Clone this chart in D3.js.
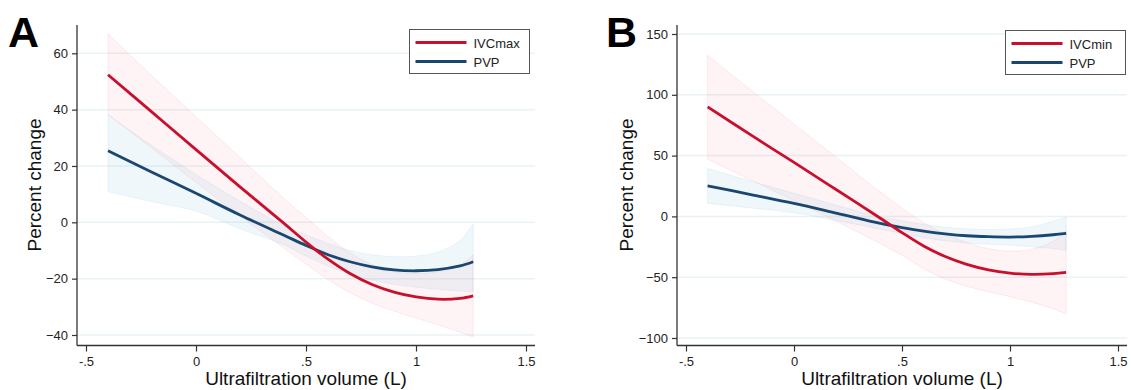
<!DOCTYPE html>
<html>
<head>
<meta charset="utf-8">
<script src="https://cdn.jsdelivr.net/npm/d3@7"></script>
<style>
  body { margin: 0; background: #fff; }
  svg { display: block; font-family: "Liberation Sans", Arial, sans-serif; }
</style>
</head>
<body>
<div class="chart"></div>
<script>
// fitted curves with 95% CI

var xVals = [-0.4, -0.2, 0, 0.2, 0.4, 0.5, 0.6, 0.7, 0.8, 0.9, 1.0, 1.1, 1.2, 1.26];

/* panel A */
var ivcmaxFit = [52.4, 39.1, 25.8, 12.6, -0.4, -7.0, -13.1, -18.2, -22.1, -24.8, -26.5, -27.3, -27.0, -26.1];
var ivcmaxHi  = [66.9, 52.0, 37.5, 23.0, 8.5, 1.8, -5.0, -10.8, -15.0, -17.5, -18.2, -17.5, -15.0, -11.6];
var ivcmaxLo  = [38.3, 26.3, 14.2, 2.3, -9.2, -14.8, -20.3, -25.0, -28.7, -31.5, -34.0, -36.4, -39.0, -40.7];
var pvpFitA   = [25.4, 17.8, 10.3, 2.6, -4.6, -8.2, -11.5, -14.0, -15.8, -16.9, -17.2, -16.8, -15.5, -14.0];
var pvpHiA    = [38.2, 27.2, 17.0, 7.5, -1.2, -4.5, -7.5, -10.0, -11.5, -12.2, -12.0, -10.5, -6.5, -0.4];
var pvpLoA    = [10.9, 7.3, 4.0, -2.3, -8.0, -12.0, -15.5, -18.5, -20.5, -22.0, -23.0, -23.8, -24.4, -24.7];

/* panel B */
var ivcminFit = [90.1, 67.0, 44.4, 21.5, -1.5, -13.3, -24.3, -33.0, -39.5, -44.0, -46.6, -47.7, -47.1, -46.0];
var ivcminHi  = [132.6, 104.0, 76.0, 48.0, 20.0, 7.0, -5.0, -14.5, -21.5, -26.5, -28.5, -27.0, -20.5, -11.5];
var ivcminLo  = [47.1, 30.0, 13.0, -4.5, -22.5, -32.0, -43.0, -51.5, -57.5, -62.0, -66.0, -70.5, -76.0, -80.5];
var pvpFitB   = [25.2, 18.0, 10.7, 2.5, -5.8, -9.2, -12.1, -14.3, -15.9, -16.7, -17.0, -16.4, -15.1, -14.0];
var pvpHiB    = [39.5, 29.0, 19.0, 9.0, -0.5, -3.5, -6.5, -8.8, -10.2, -10.8, -10.5, -8.5, -4.0, -0.3];
var pvpLoB    = [10.7, 7.0, 3.0, -3.5, -10.5, -14.0, -17.5, -20.0, -21.8, -23.0, -23.8, -25.0, -26.5, -28.0];

var xTicks  = [-0.5, 0, 0.5, 1, 1.5];
var yTicksA = [-40, -20, 0, 20, 40, 60];
var yTicksB = [-100, -50, 0, 50, 100, 150];

var red  = "#c8102e",
    blue = "#1a476f";

var width = 1131,
    height = 390;

var svg = d3.select(".chart").append("svg")
    .attr("width", width)
    .attr("height", height);

function fmtX(d) {
    return String(d).replace("0.", ".");
}

function drawPanel(p) {
    var x = d3.scaleLinear().domain([-0.5, 1.5]).range([p.x0, p.x1]);
    var y = d3.scaleLinear().domain(p.yDomain).range(p.yRange);

    var g = svg.append("g");

    // gridlines
    g.selectAll(".grid")
        .data(p.yTicks)
        .enter().append("line")
        .attr("x1", p.axisL).attr("x2", p.axisR)
        .attr("y1", function(d) { return y(d); })
        .attr("y2", function(d) { return y(d); })
        .attr("stroke", "#eaf3f4")
        .attr("stroke-width", 1.5);

    function rows(fit, lo, hi) {
        return xVals.map(function(v, i) {
            return {x: v, fit: fit[i], lo: lo[i], hi: hi[i]};
        });
    }

    var band = d3.area()
        .x(function(d) { return x(d.x); })
        .y0(function(d) { return y(d.lo); })
        .y1(function(d) { return y(d.hi); })
        .curve(d3.curveCatmullRom);

    var line = d3.line()
        .x(function(d) { return x(d.x); })
        .y(function(d) { return y(d.fit); })
        .curve(d3.curveCatmullRom);

    var s1 = rows(p.s1[0], p.s1[1], p.s1[2]),
        s2 = rows(p.s2[0], p.s2[1], p.s2[2]);

    // CI bands
    g.append("path").datum(s1).attr("d", band)
        .attr("fill", "rgba(230,40,80,0.055)")
        .attr("stroke", "rgba(230,40,80,0.10)")
        .attr("stroke-width", 0.8);
    g.append("path").datum(s2).attr("d", band)
        .attr("fill", "rgba(110,180,220,0.10)")
        .attr("stroke", "rgba(110,180,220,0.16)")
        .attr("stroke-width", 0.8);

    // fitted lines
    g.append("path").datum(s2).attr("d", line)
        .attr("fill", "none").attr("stroke", blue).attr("stroke-width", 2.8);
    g.append("path").datum(s1).attr("d", line)
        .attr("fill", "none").attr("stroke", red).attr("stroke-width", 2.8);

    // axes
    var yAxis = g.append("g")
        .attr("transform", "translate(" + p.axisL + ",0)")
        .call(d3.axisLeft(y).tickValues(p.yTicks).tickSize(5).tickPadding(4).tickSizeOuter(0));
    var xAxis = g.append("g")
        .attr("transform", "translate(0," + p.axisB + ")")
        .call(d3.axisBottom(x).tickValues(xTicks).tickFormat(fmtX).tickSize(6).tickPadding(5).tickSizeOuter(0));

    [yAxis, xAxis].forEach(function(a) {
        a.select(".domain").remove();
        a.selectAll("line").attr("stroke", "#333").attr("stroke-width", 1.2);
        a.selectAll("text").attr("fill", "#222").attr("font-size", 13)
            .attr("font-family", "Liberation Sans, Arial, sans-serif");
    });

    g.append("line")
        .attr("x1", p.axisL).attr("x2", p.axisL)
        .attr("y1", p.axisT).attr("y2", p.axisB)
        .attr("stroke", "#333").attr("stroke-width", 1.3);
    g.append("line")
        .attr("x1", p.axisL).attr("x2", p.axisR)
        .attr("y1", p.axisB).attr("y2", p.axisB)
        .attr("stroke", "#333").attr("stroke-width", 1.3);

    // axis titles
    g.append("text")
        .attr("x", (p.x0 + p.x1) / 2)
        .attr("y", 385)
        .attr("text-anchor", "middle")
        .attr("font-size", 19)
        .attr("fill", "#111")
        .text("Ultrafiltration volume (L)");
    g.append("text")
        .attr("transform", "translate(" + p.titleX + ",185) rotate(-90)")
        .attr("text-anchor", "middle")
        .attr("font-size", 19)
        .attr("fill", "#111")
        .text("Percent change");

    // panel letter
    g.append("text")
        .attr("x", p.letterX).attr("y", 47)
        .attr("font-size", 43)
        .attr("font-weight", "bold")
        .attr("fill", "#000")
        .text(p.letter);

    // legend
    var lg = g.append("g").attr("transform", "translate(" + p.legX + "," + p.legY + ")");
    lg.append("rect")
        .attr("width", p.legW).attr("height", 44)
        .attr("fill", "#fff").attr("stroke", "#555").attr("stroke-width", 1);
    [[red, p.names[0]], [blue, p.names[1]]].forEach(function(it, i) {
        lg.append("line")
            .attr("x1", 6).attr("x2", 57)
            .attr("y1", 13 + i * 19).attr("y2", 13 + i * 19)
            .attr("stroke", it[0]).attr("stroke-width", 2.8);
        lg.append("text")
            .attr("x", 64).attr("y", 18 + i * 19)
            .attr("font-size", 13)
            .attr("fill", "#222")
            .text(it[1]);
    });
}

drawPanel({
    letter: "A", letterX: 8,
    x0: 86, x1: 526, axisL: 77, axisR: 535, axisT: 25, axisB: 345.5,
    yDomain: [-40, 60], yRange: [335, 53.3], yTicks: yTicksA,
    titleX: 41,
    legX: 409.5, legY: 29.5, legW: 120,
    names: ["IVCmax", "PVP"],
    s1: [ivcmaxFit, ivcmaxLo, ivcmaxHi],
    s2: [pvpFitA, pvpLoA, pvpHiA]
});

drawPanel({
    letter: "B", letterX: 606,
    x0: 686, x1: 1118, axisL: 677, axisR: 1127, axisT: 25, axisB: 345.5,
    yDomain: [-100, 150], yRange: [338, 34], yTicks: yTicksB,
    titleX: 633,
    legX: 1005.5, legY: 30.5, legW: 120,
    names: ["IVCmin", "PVP"],
    s1: [ivcminFit, ivcminLo, ivcminHi],
    s2: [pvpFitB, pvpLoB, pvpHiB]
});
</script>
</body>
</html>
